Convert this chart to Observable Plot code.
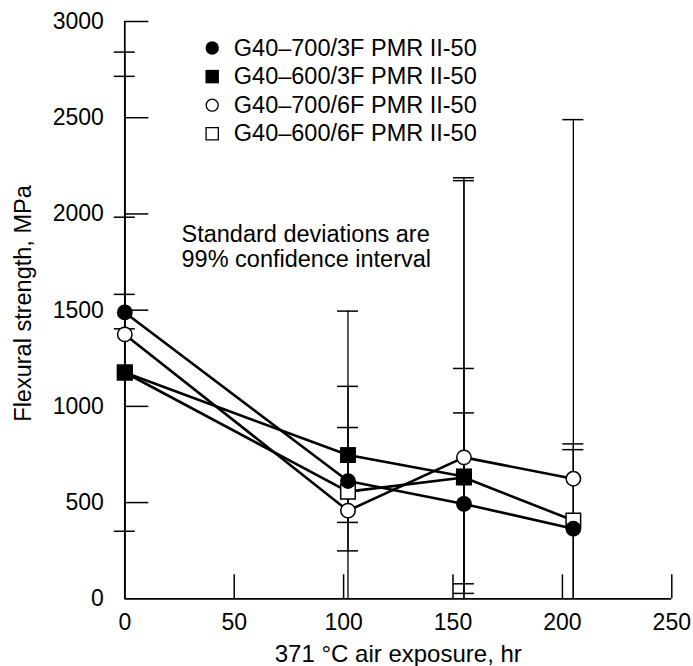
<!DOCTYPE html>
<html><head><meta charset="utf-8">
<script src="https://cdn.jsdelivr.net/npm/d3@7"></script>
<script src="https://cdn.jsdelivr.net/npm/@observablehq/plot@0.6"></script>
<style>
body{margin:0;background:#fff;}
#chart svg{display:block;}
</style></head><body><div id="chart"></div>
<script>
// ---- data ----
const hours = [0, 102, 155, 205];
const seriesNames = ["G40–700/3F PMR II-50", "G40–600/3F PMR II-50", "G40–700/6F PMR II-50", "G40–600/6F PMR II-50"];
const g700_3F = [1488, 612, 493, 364];
const g600_3F = [1176, 747, 636, null];
const g700_6F = [1374, 458, 735, 624];
const g600_6F = [1176, 557, 630, 407];
// 99% confidence limits (lower / upper)
const g700_3F_lo = [1403, null, 28, -52];
const g700_3F_hi = [1582, null, 966, 775];
const g600_3F_lo = [351, 397, 78, null];
const g600_3F_hi = [1983, 1104, 1197, null];
const g700_6F_lo = [-93, -580, -703, -1242];
const g700_6F_hi = [2841, 1495, 2188, 2490];
const g600_6F_lo = [-363, 249, -913, -10];
const g600_6F_hi = [2715, 890, 2173, 805];
const xTicks = [0, 50, 100, 150, 200, 250];
const yTicks = [0, 500, 1000, 1500, 2000, 2500, 3000];
const xLabel = "371 °C air exposure, hr";
const yLabel = "Flexural strength, MPa";
const note = "Standard deviations are\n99% confidence interval";

// ---- layout / style ----
const W = 693, H = 666, mL = 124.3, mR = 21.7, mT = 21, mB = 67.7;
const kx = (W - mL - mR) / 250, ky = (H - mT - mB) / 3000;
const tickLenX = 24 / kx, tickLenY = 24 / ky, capHalf = 10.5 / kx;
const font = "'Liberation Sans', Arial, Helvetica, sans-serif";

const values = [g700_3F, g600_3F, g700_6F, g600_6F];
const lows = [g700_3F_lo, g600_3F_lo, g700_6F_lo, g600_6F_lo];
const highs = [g700_3F_hi, g600_3F_hi, g700_6F_hi, g600_6F_hi];
const styles = [
  {symbol: "circle", fill: "black", stroke: "none", r: 7.9, lr: 6.7, sw: 0},
  {symbol: "square", fill: "black", stroke: "none", r: 9.0, lr: 7.6, sw: 0},
  {symbol: "circle", fill: "white", stroke: "black", r: 7.2, lr: 6.0, sw: 1.5},
  {symbol: "square", fill: "white", stroke: "black", r: 8.2, lr: 6.9, sw: 1.5}
];

const series = seriesNames.map((name, k) => ({
  name, k,
  rows: hours.map((h, i) => ({x: h, y: values[k][i], lo: lows[k][i], hi: highs[k][i]}))
              .filter(d => d.y != null)
}));

const bars = series.flatMap(s => s.rows.filter(d => d.hi != null));
const caps = [];
bars.forEach(d => { for (const v of [d.lo, d.hi]) if (v >= 0 && v <= 3000) caps.push({x: d.x, v}); });

const lineMarks = series.map(s => Plot.line(s.rows, {x: "x", y: "y", stroke: "black", strokeWidth: 2.6}));
const drawOrder = [3, 1, 0, 2];
const dotMarks = drawOrder.map(k => {
  const st = styles[k];
  return Plot.dot(series[k].rows, {x: "x", y: "y", symbol: st.symbol, r: st.r, fill: st.fill,
    stroke: st.stroke, strokeWidth: st.sw});
});

const legendRowY = i => 47.5 + i * 28.6;
const legendMarks = series.flatMap((s, i) => {
  const st = styles[s.k];
  return [
    Plot.dot([s.name], {frameAnchor: "top-left", dx: 211.7 - mL, dy: legendRowY(i) - mT,
      symbol: st.symbol, r: st.lr, fill: st.fill, stroke: st.stroke, strokeWidth: st.sw ? 1.3 : 0}),
    Plot.text([s.name], {text: d => d, frameAnchor: "top-left", dx: 233.3 - mL, dy: legendRowY(i) - mT,
      textAnchor: "start", lineAnchor: "middle", fontSize: 23.5, fill: "black"})
  ];
});

const chart = Plot.plot({
  width: W, height: H,
  marginLeft: mL, marginRight: mR, marginTop: mT, marginBottom: mB,
  style: {fontFamily: font, fontSize: "23px", background: "white", color: "black"},
  x: {domain: [0, 250], axis: null},
  y: {domain: [0, 3000], axis: null},
  marks: [
    Plot.ruleX(bars, {x: "x", y1: d => Math.max(0, d.lo ?? 0), y2: "hi", stroke: "black", strokeWidth: 1.3}),
    Plot.ruleY(caps, {y: "v", x1: d => d.x - capHalf, x2: d => d.x + capHalf, stroke: "black", strokeWidth: 1.5}),
    Plot.ruleX([0], {y1: 0, y2: 3000, stroke: "black", strokeWidth: 1.7}),
    Plot.ruleY([0], {x1: 0, x2: 250, stroke: "black", strokeWidth: 1.7}),
    Plot.ruleY(yTicks.filter(v => v > 0), {y: d => d, x1: 0, x2: tickLenX, stroke: "black", strokeWidth: 1.5}),
    Plot.ruleX(xTicks.filter(v => v > 0), {x: d => d, y1: 0, y2: tickLenY, stroke: "black", strokeWidth: 1.5}),
    Plot.axisX({ticks: xTicks, tickSize: 0, tickPadding: 15, label: null, tickFormat: d => String(d), fontSize: 23}),
    Plot.axisY({ticks: yTicks, tickSize: 0, tickPadding: 21, label: null, tickFormat: d => String(d), fontSize: 23}),
    ...lineMarks,
    ...dotMarks,
    ...legendMarks,
    Plot.text([note], {text: d => d, frameAnchor: "top-left", dx: 181 - mL, dy: 245.5 - mT,
      textAnchor: "start", lineAnchor: "middle", lineHeight: 25 / 23.5, fontSize: 23.5, fill: "black"}),
    Plot.text([xLabel], {text: d => d, frameAnchor: "bottom", dy: 654 - (H - mB),
      textAnchor: "middle", lineAnchor: "middle", fontSize: 24, fill: "black"}),
    Plot.text([yLabel], {text: d => d, frameAnchor: "left", rotate: -90, dx: 22.7 - mL,
      dy: 303 - (mT + (H - mT - mB) / 2), textAnchor: "middle", lineAnchor: "middle", fontSize: 23.5, fill: "black"})
  ]
});
document.getElementById("chart").appendChild(chart);
</script>
</body></html>
